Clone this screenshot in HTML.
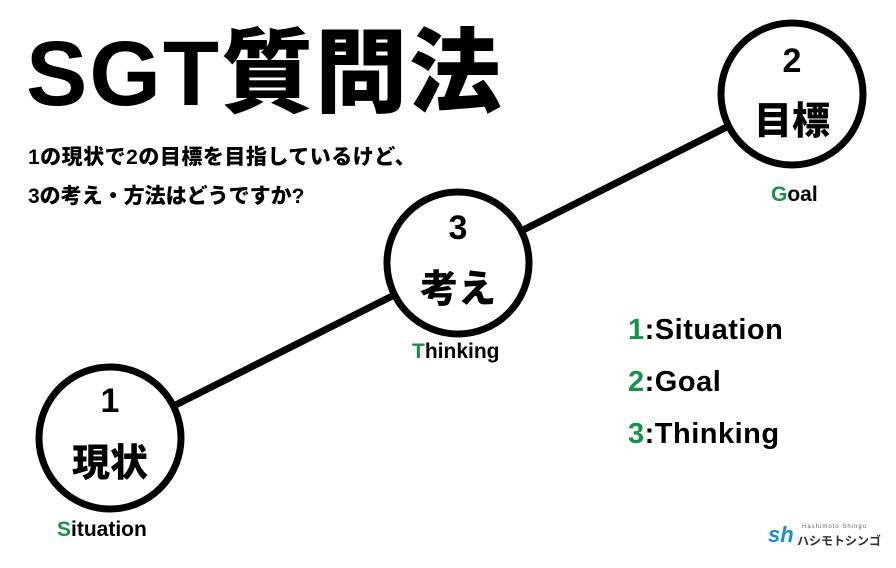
<!DOCTYPE html>
<html><head><meta charset="utf-8"><style>
body{margin:0;width:896px;height:568px;background:#fff;overflow:hidden;position:relative;font-family:"Liberation Sans","Noto Sans CJK JP",sans-serif;color:#000}
.a{position:absolute;white-space:nowrap;font-weight:bold}
.g{color:#149447}
</style></head><body>
<svg width="896" height="568" style="position:absolute;left:0;top:0">
<line x1="110" y1="438" x2="458" y2="263" stroke="#000" stroke-width="7"/>
<line x1="458" y1="263" x2="792" y2="94" stroke="#000" stroke-width="7"/>
<circle cx="110" cy="438" r="71" fill="#fff" stroke="#000" stroke-width="7"/>
<circle cx="458" cy="263" r="71" fill="#fff" stroke="#000" stroke-width="7"/>
<circle cx="792" cy="94" r="71" fill="#fff" stroke="#000" stroke-width="7"/>
</svg>
<div class="a" style="left:26px;top:24px;font-size:92px;line-height:100px;font-weight:900;letter-spacing:2px">SGT質問法</div>
<div class="a" style="left:28px;top:144px;font-size:21px;line-height:28px;font-weight:900;letter-spacing:0.5px">1の現状で2の目標を目指しているけど、</div>
<div class="a" style="left:28px;top:183px;font-size:21px;line-height:28px;font-weight:900">3の考え・方法はどうですか?</div>

<div class="a" style="left:60px;top:382px;width:100px;text-align:center;font-size:34px">1</div>
<div class="a" style="left:60px;top:432px;width:100px;text-align:center;font-size:38px;font-weight:900">現状</div>
<div class="a" style="left:408px;top:209px;width:100px;text-align:center;font-size:34px">3</div>
<div class="a" style="left:408px;top:258px;width:100px;text-align:center;font-size:38px;font-weight:900">考え</div>
<div class="a" style="left:742px;top:42px;width:100px;text-align:center;font-size:34px">2</div>
<div class="a" style="left:742px;top:90px;width:100px;text-align:center;font-size:38px;font-weight:900">目標</div>

<div class="a" style="left:57px;top:518px;font-size:21px"><span class="g">S</span>ituation</div>
<div class="a" style="left:412px;top:340px;font-size:21px"><span class="g">T</span>hinking</div>
<div class="a" style="left:771px;top:183px;font-size:21px"><span class="g">G</span>oal</div>

<div class="a" style="left:628px;top:314px;font-size:29px;letter-spacing:0.5px"><span class="g">1</span>:Situation</div>
<div class="a" style="left:628px;top:366px;font-size:29px;letter-spacing:0.5px"><span class="g">2</span>:Goal</div>
<div class="a" style="left:628px;top:418px;font-size:29px;letter-spacing:0.5px"><span class="g">3</span>:Thinking</div>

<div class="a" style="left:768px;top:522px;font-size:22px;color:#1a8fd0;font-style:italic;font-weight:900">sh</div>
<div class="a" style="left:802px;top:524px;font-size:6px;color:#666;letter-spacing:1px;font-weight:normal">Hashimoto Shingo</div>
<div class="a" style="left:797px;top:532px;font-size:12px;color:#333;letter-spacing:0px">ハシモトシンゴ</div>
</body></html>
